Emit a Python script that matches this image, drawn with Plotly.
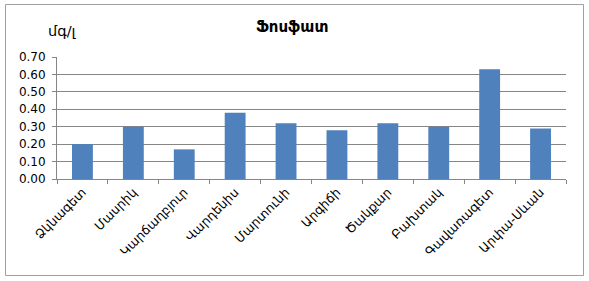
import plotly.graph_objects as go

categories = ["Ձկնագետ", "Մասրիկ", "Կարճաղբյուր", "Վարդենիս", "Մարտունի",
              "Արգիճի", "Ծակքար", "Բախտակ", "Գավառագետ", "Արփա-Սևան"]
values = [0.20, 0.30, 0.17, 0.38, 0.32, 0.28, 0.32, 0.30, 0.63, 0.29]
title_text = "Ֆոսֆատ"
unit_text = "մգ/լ"

L, R, T, B = 57, 23, 57, 102
W, H = 589, 281
pw, ph = W - L - R, H - T - B

def px(x):
    return (x - L) / pw

def py(y):
    return (H - B - y) / ph

fig = go.Figure(go.Bar(x=categories, y=values, marker_color="#4F81BD",
                       marker_line_width=0, width=0.41))

fig.update_layout(
    width=W, height=H,
    margin=dict(l=L, r=R, t=T, b=B),
    paper_bgcolor="white", plot_bgcolor="white",
    showlegend=False,
    font=dict(family="DejaVu Sans", size=12, color="black"),
    xaxis=dict(type="category", tickangle=-45, showline=True, linecolor="#868686",
               linewidth=1, ticks="outside", ticklen=4, tickcolor="#868686",
               tickson="boundaries", showgrid=False,
               tickfont=dict(family="DejaVu Sans", size=12.5)),
    yaxis=dict(range=[0, 0.7], dtick=0.1, tickformat=".2f", showline=True,
               linecolor="#868686", linewidth=1, ticks="outside", ticklen=4,
               tickcolor="#868686", showgrid=True, gridcolor="#868686",
               gridwidth=1, zeroline=False, ticklabelstandoff=4,
               tickfont=dict(family="DejaVu Sans", size=12)),
    shapes=[dict(type="rect", xref="paper", yref="paper",
                 x0=px(5.5), x1=px(583.5), y0=py(275.5), y1=py(4.5),
                 line=dict(color="#a0a0a0", width=1), fillcolor="rgba(0,0,0,0)",
                 layer="below")],
    annotations=[
        dict(text="<b>" + title_text + "</b>", xref="paper", yref="paper",
             x=px(292), y=py(27), showarrow=False, xanchor="center", yanchor="middle",
             font=dict(family="DejaVu Sans", size=15)),
        dict(text=unit_text, xref="paper", yref="paper",
             x=px(62), y=py(31), showarrow=False, xanchor="center", yanchor="middle",
             font=dict(family="DejaVu Sans", size=14.5)),
    ],
)

fig.write_html("out.html")
